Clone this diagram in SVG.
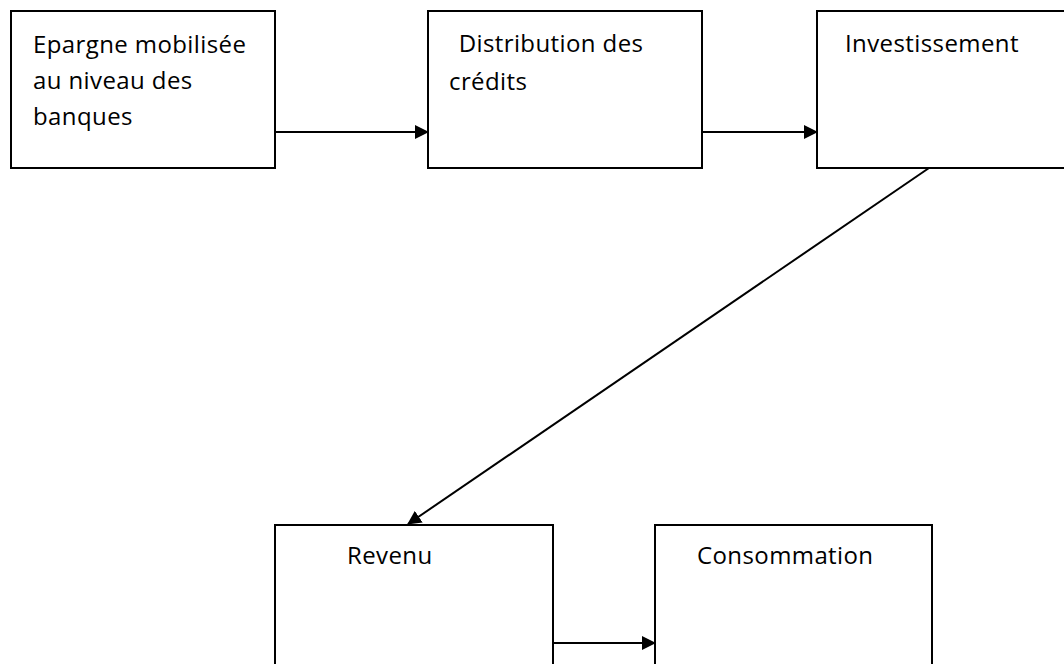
<svg xmlns="http://www.w3.org/2000/svg" width="1064" height="664" viewBox="0 0 1064 664">
<defs>
<style>
.box{fill:#fff;stroke:#000;stroke-width:2}
.lbl{font-family:"Open Sans","Liberation Sans",sans-serif;font-size:24px;letter-spacing:0.4px;fill:#000}
.con{stroke:#000;stroke-width:2;fill:none}
</style>
<marker id="ah" viewBox="0 0 14 14" markerWidth="14" markerHeight="14" refX="13" refY="7" orient="auto" markerUnits="userSpaceOnUse">
<path d="M0,0 L14,7 L0,14 z" fill="#000"/>
</marker>
</defs>
<rect width="1064" height="664" fill="#fff"/>
<g id="n1"><rect class="box" x="11" y="11" width="264" height="157"/>
<text class="lbl" x="33" y="53">Epargne mobilisée</text>
<text class="lbl" x="33" y="89">au niveau des</text>
<text class="lbl" x="33" y="125">banques</text></g>
<g id="n2"><rect class="box" x="428" y="11" width="274" height="157"/>
<text class="lbl" x="452" y="52" xml:space="preserve"> Distribution des</text>
<text class="lbl" x="449" y="90">crédits</text></g>
<g id="n3"><rect class="box" x="817" y="11" width="260" height="157"/>
<text class="lbl" x="845" y="52">Investissement</text></g>
<g id="n4"><rect class="box" x="275" y="525" width="278" height="160"/>
<text class="lbl" x="347" y="564">Revenu</text></g>
<g id="n5"><rect class="box" x="655" y="525" width="277" height="160"/>
<text class="lbl" x="697" y="564">Consommation</text></g>
<g id="connectors">
<line class="con" x1="275" y1="132" x2="428" y2="132" marker-end="url(#ah)"/>
<line class="con" x1="702" y1="132" x2="817" y2="132" marker-end="url(#ah)"/>
<line class="con" x1="929" y1="168" x2="408" y2="524" marker-end="url(#ah)"/>
<line class="con" x1="553" y1="643" x2="655" y2="643" marker-end="url(#ah)"/>
</g>
</svg>
